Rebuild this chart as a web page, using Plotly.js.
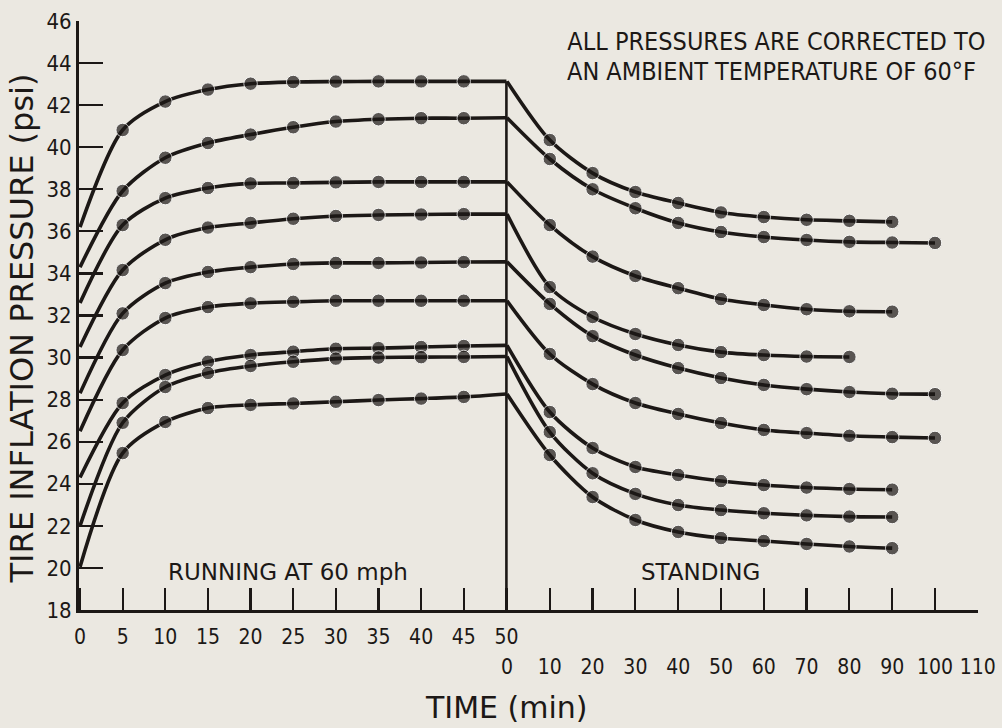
<!DOCTYPE html>
<html>
<head>
<meta charset="utf-8">
<script src="https://cdn.plot.ly/plotly-3.0.1.min.js"></script>
<style>
html,body{margin:0;padding:0;background:#ebe8e1;}
#chart{width:1002px;height:728px;}
#chart .xtick text, #chart .x2tick text, #chart .ytick text,
#chart g.annotation[data-index="0"] text, #chart g.annotation[data-index="1"] text {font-stretch: condensed;}
</style>
</head>
<body>
<div id="chart"></div>
<script>
// ---- data (psi) ----
const runTime = [0, 5, 10, 15, 20, 25, 30, 35, 40, 45, 50];          // running at 60 mph, min
const standTime = [0, 10, 20, 30, 40, 50, 60, 70, 80, 90, 100];      // standing, min

const runA = [36.2, 40.82, 42.17, 42.74, 43.02, 43.1, 43.12, 43.13, 43.13, 43.13, 43.13];
const runB = [34.3, 37.92, 39.5, 40.2, 40.6, 40.95, 41.22, 41.33, 41.38, 41.38, 41.4];
const runC = [32.6, 36.3, 37.58, 38.06, 38.28, 38.3, 38.33, 38.35, 38.35, 38.35, 38.35];
const runD = [30.5, 34.16, 35.6, 36.18, 36.4, 36.6, 36.73, 36.78, 36.8, 36.82, 36.82];
const runE = [28.3, 32.1, 33.54, 34.07, 34.3, 34.45, 34.5, 34.5, 34.52, 34.54, 34.55];
const runF = [26.5, 30.36, 31.88, 32.4, 32.58, 32.65, 32.7, 32.7, 32.7, 32.7, 32.7];
const runG = [24.3, 27.84, 29.17, 29.8, 30.12, 30.28, 30.42, 30.45, 30.5, 30.55, 30.58];
const runH = [22.0, 26.9, 28.6, 29.27, 29.6, 29.8, 29.95, 30.0, 30.02, 30.03, 30.05];
const runI = [20.05, 25.46, 26.94, 27.6, 27.75, 27.82, 27.9, 27.98, 28.05, 28.13, 28.27];

const standA = [43.13, 40.34, 38.77, 37.87, 37.35, 36.9, 36.68, 36.55, 36.5, 36.45];
const standB = [41.4, 39.44, 38.0, 37.1, 36.4, 35.97, 35.73, 35.59, 35.5, 35.47, 35.45];
const standC = [38.35, 36.3, 34.8, 33.88, 33.3, 32.78, 32.5, 32.3, 32.2, 32.18];
const standD = [36.82, 33.35, 31.93, 31.12, 30.6, 30.26, 30.12, 30.05, 30.03];
const standE = [34.55, 32.55, 31.02, 30.12, 29.5, 29.03, 28.7, 28.5, 28.36, 28.28, 28.26];
const standF = [32.7, 30.17, 28.74, 27.84, 27.32, 26.89, 26.56, 26.41, 26.28, 26.22, 26.18];
const standG = [30.58, 27.41, 25.7, 24.8, 24.42, 24.13, 23.94, 23.82, 23.75, 23.72];
const standH = [30.05, 26.46, 24.5, 23.52, 22.99, 22.75, 22.6, 22.5, 22.44, 22.42];
const standI = [28.27, 25.37, 23.37, 22.28, 21.71, 21.42, 21.28, 21.14, 21.02, 20.94];

const runSeries = [runA, runB, runC, runD, runE, runF, runG, runH, runI];
const standSeries = [standA, standB, standC, standD, standE, standF, standG, standH, standI];

// axis ticks
const yTickVals = [18, 20, 22, 24, 26, 28, 30, 32, 34, 36, 38, 40, 42, 44, 46];
const yTickText = ['18', '20', '22', '24', '26', '28', '30', '32', '34', '36', '38', '40', '42', '44', '46'];
const runTickVals = [0, 5, 10, 15, 20, 25, 30, 35, 40, 45, 50];
const runTickText = ['0', '5', '10', '15', '20', '25', '30', '35', '40', '45', '50'];
const standTickVals = [0, 10, 20, 30, 40, 50, 60, 70, 80, 90, 100, 110];
const standTickText = ['0', '10', '20', '30', '40', '50', '60', '70', '80', '90', '100', '110'];

// ---- styling ----
const ink = '#1c1816';
const bg = '#ebe8e1';
const sans = '"DejaVu Sans", sans-serif';
const yRange = [18, 46];

const traces = [];
runSeries.forEach(s => {
  traces.push({
    x: runTime, y: s, xaxis: 'x', yaxis: 'y', type: 'scatter', mode: 'lines+markers',
    line: {shape: 'spline', smoothing: 0.8, width: 3.6, color: ink},
    marker: {size: runTime.map(t => (t === 0 || t === 50) ? 0 : 13.5), color: ink},
    hoverinfo: 'skip', showlegend: false
  });
});
standSeries.forEach(s => {
  const t = standTime.slice(0, s.length);
  traces.push({
    x: t, y: s, xaxis: 'x2', yaxis: 'y', type: 'scatter', mode: 'lines+markers',
    line: {shape: 'spline', smoothing: 0.8, width: 3.6, color: ink},
    marker: {size: t.map(v => v === 0 ? 0 : 13.5), color: ink},
    hoverinfo: 'skip', showlegend: false
  });
});

const runEnd = runTime[runTime.length - 1];
const topEnd = Math.max(...runSeries.map(s => s[s.length - 1]));

const layout = {
  width: 1002, height: 728,
  margin: {l: 79, r: 24, t: 21, b: 118},
  paper_bgcolor: bg, plot_bgcolor: bg,
  showlegend: false,
  xaxis: {
    range: [-0.12, 105.3], tickmode: 'array', tickvals: runTickVals, ticktext: runTickText,
    ticks: 'inside', ticklen: 22, tickwidth: 2.2, tickcolor: ink,
    showline: true, linewidth: 3, linecolor: ink, showgrid: false, zeroline: false,
    ticklabelstandoff: 6,
    tickfont: {family: sans, size: 21, color: ink}
  },
  xaxis2: {
    overlaying: 'x', anchor: 'y', side: 'bottom',
    range: [-100, 110.05], tickmode: 'array', tickvals: standTickVals, ticktext: standTickText,
    ticks: 'inside', ticklen: 22, tickwidth: 2.2, tickcolor: ink,
    showline: false, showgrid: false, zeroline: false,
    ticklabelstandoff: 42,
    tickfont: {family: sans, size: 21, color: ink}
  },
  yaxis: {
    range: yRange, tickmode: 'array', tickvals: yTickVals, ticktext: yTickText,
    ticks: 'inside', ticklen: 24, tickwidth: 2.2, tickcolor: ink,
    showline: true, linewidth: 3, linecolor: ink, showgrid: false, zeroline: false,
    tickfont: {family: sans, size: 22, color: ink}
  },
  shapes: [{
    type: 'line', xref: 'x', yref: 'y', x0: runEnd, x1: runEnd, y0: yRange[0], y1: topEnd,
    line: {color: ink, width: 2.6}
  }],
  annotations: [
    {text: 'ALL PRESSURES ARE CORRECTED TO', xref: 'paper', yref: 'paper', x: 0.515, y: 0.966,
     xanchor: 'left', yanchor: 'middle', showarrow: false, font: {family: sans, size: 25, color: ink}},
    {text: 'AN AMBIENT TEMPERATURE OF 60°F', xref: 'paper', yref: 'paper', x: 0.515, y: 0.915,
     xanchor: 'left', yanchor: 'middle', showarrow: false, font: {family: sans, size: 25, color: ink}},
    {text: 'RUNNING AT 60 mph', xref: 'paper', yref: 'paper', x: 0.2325, y: 0.0645,
     xanchor: 'center', yanchor: 'middle', showarrow: false, font: {family: sans, size: 23, color: ink}},
    {text: 'STANDING', xref: 'paper', yref: 'paper', x: 0.6908, y: 0.0645,
     xanchor: 'center', yanchor: 'middle', showarrow: false, font: {family: sans, size: 23, color: ink}},
    {text: 'TIME (min)', xref: 'paper', yref: 'paper', x: 0.475, y: -0.1647,
     xanchor: 'center', yanchor: 'middle', showarrow: false, font: {family: sans, size: 30, color: ink}},
    {text: 'TIRE INFLATION PRESSURE (psi)', xref: 'paper', yref: 'paper', x: -0.0634, y: 0.478,
     xanchor: 'center', yanchor: 'middle', textangle: -90, showarrow: false, font: {family: sans, size: 32, color: ink}}
  ]
};

Plotly.newPlot('chart', traces, layout, {staticPlot: true, displayModeBar: false});
</script>
</body>
</html>
